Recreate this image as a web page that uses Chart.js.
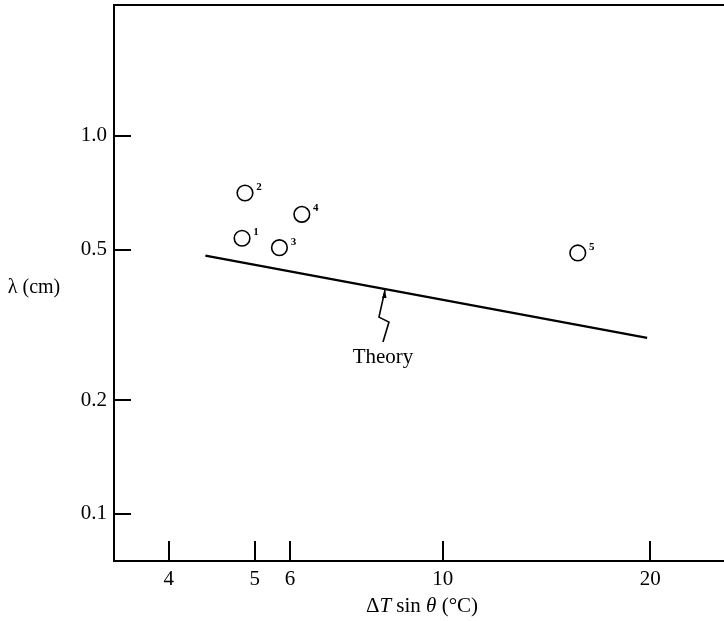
<!DOCTYPE html>
<html>
<head>
<meta charset="utf-8">
<script src="https://cdn.jsdelivr.net/npm/chart.js@4.4.1/dist/chart.umd.min.js"></script>
<style>
    html, body { margin: 0; padding: 0; background: #fff; }
    canvas { display: block; }
</style>
</head>
<body>
<canvas id="chart" width="724" height="621"></canvas>
<script>
// Measured points (run numbers 1-5)
const runLabels = ['1', '2', '3', '4', '5'];
const runX = [5.11, 5.16, 5.79, 6.24, 15.7];
const runY = [0.536, 0.706, 0.506, 0.62, 0.49];

// Theory line end points
const theoryX = [4.52, 19.8];
const theoryY = [0.482, 0.292];

// Axis ticks (the printed "5" tick sits a little right of 5 on the log scale)
const xTickValues = [4, 5.33, 6, 10, 20];
const xTickLabels = ['4', '5', '6', '10', '20'];
const yTickValues = [0.1, 0.2, 0.5, 1.0];
const yTickLabels = ['0.1', '0.2', '0.5', '1.0'];

// Where the "Theory" pointer touches the line
const theoryPointerX = 8.24;

const serif = '"Liberation Serif", "DejaVu Serif", serif';

// Draws the frame top, inward ticks, run numbers, pointer and axis titles
const extrasPlugin = {
    id: 'extras',
    afterDraw(chart) {
        const ctx = chart.ctx;
        const area = chart.chartArea;
        const xs = chart.scales.x;
        const ys = chart.scales.y;
        ctx.save();
        ctx.strokeStyle = '#000';
        ctx.fillStyle = '#000';

        // top of frame
        ctx.lineWidth = 2;
        ctx.beginPath();
        ctx.moveTo(area.left, area.top);
        ctx.lineTo(area.right, area.top);
        ctx.stroke();

        // inward tick marks
        ctx.lineWidth = 2;
        xTickValues.forEach(v => {
            const px = Math.round(xs.getPixelForValue(v));
            ctx.beginPath();
            ctx.moveTo(px, area.bottom);
            ctx.lineTo(px, area.bottom - 20);
            ctx.stroke();
        });
        yTickValues.forEach(v => {
            const py = Math.round(ys.getPixelForValue(v));
            ctx.beginPath();
            ctx.moveTo(area.left, py);
            ctx.lineTo(area.left + 17, py);
            ctx.stroke();
        });

        // run numbers next to the circles
        ctx.font = 'bold 11px ' + serif;
        ctx.textAlign = 'center';
        ctx.textBaseline = 'middle';
        runLabels.forEach((lab, i) => {
            const px = xs.getPixelForValue(runX[i]);
            const py = ys.getPixelForValue(runY[i]);
            ctx.fillText(lab, px + 14, py - 6);
        });

        // "Theory" pointer, anchored on the theory line (log-log interpolation)
        const t = (Math.log10(theoryPointerX) - Math.log10(theoryX[0])) /
                  (Math.log10(theoryX[1]) - Math.log10(theoryX[0]));
        const ly = Math.pow(10, Math.log10(theoryY[0]) + t * (Math.log10(theoryY[1]) - Math.log10(theoryY[0])));
        const ax = xs.getPixelForValue(theoryPointerX);
        const ay = ys.getPixelForValue(ly);
        ctx.lineWidth = 1.6;
        ctx.beginPath();
        ctx.moveTo(ax, ay + 1);
        ctx.lineTo(ax - 6, ay + 28);
        ctx.lineTo(ax + 4, ay + 33);
        ctx.lineTo(ax - 2, ay + 53);
        ctx.stroke();
        ctx.beginPath();
        ctx.moveTo(ax, ay + 1);
        ctx.lineTo(ax - 3, ay + 9);
        ctx.lineTo(ax + 1.5, ay + 9);
        ctx.closePath();
        ctx.fill();
        ctx.font = '21px ' + serif;
        ctx.textAlign = 'center';
        ctx.textBaseline = 'middle';
        ctx.fillText('Theory', ax - 2, ay + 68);

        // y title (horizontal)
        ctx.font = '20px ' + serif;
        ctx.textAlign = 'center';
        ctx.fillText('\u03bb (cm)', 34, (area.top + area.bottom) / 2 + 5);

        // x title with italic T and theta
        const parts = [
            ['\u0394', false],
            ['T', true],
            [' sin ', false],
            ['\u03b8', true],
            [' (\u00b0C)', false]
        ];
        let total = 0;
        parts.forEach(p => {
            ctx.font = (p[1] ? 'italic ' : '') + '21px ' + serif;
            total += ctx.measureText(p[0]).width;
        });
        let cx = (area.left + area.right) / 2 + 3 - total / 2;
        ctx.textAlign = 'left';
        parts.forEach(p => {
            ctx.font = (p[1] ? 'italic ' : '') + '21px ' + serif;
            ctx.fillText(p[0], cx, 606);
            cx += ctx.measureText(p[0]).width;
        });
        ctx.restore();
    }
};

const ctx = document.getElementById('chart').getContext('2d');
new Chart(ctx, {
    type: 'scatter',
    data: {
        datasets: [
            {
                label: 'Runs',
                data: runX.map((x, i) => ({ x: x, y: runY[i] })),
                pointStyle: 'circle',
                pointRadius: 7.8,
                borderWidth: 1.6,
                borderColor: '#000',
                backgroundColor: 'rgba(0,0,0,0)'
            },
            {
                label: 'Theory',
                type: 'line',
                data: theoryX.map((x, i) => ({ x: x, y: theoryY[i] })),
                borderColor: '#000',
                borderWidth: 2.2,
                pointRadius: 0,
                fill: false
            }
        ]
    },
    options: {
        responsive: false,
        animation: false,
        layout: { autoPadding: false, padding: { top: 5, left: 0, right: 0, bottom: 0 } },
        plugins: {
            legend: { display: false },
            tooltip: { enabled: false }
        },
        scales: {
            x: {
                type: 'logarithmic',
                min: 3.33,
                max: 25.6,
                grid: { display: false, drawTicks: false },
                border: { display: true, color: '#000', width: 2 },
                ticks: {
                    color: '#000',
                    font: { family: serif, size: 21 },
                    padding: 6,
                    autoSkip: false,
                    maxRotation: 0,
                    callback: (value, index) => xTickLabels[index]
                },
                afterBuildTicks: scale => {
                    scale.ticks = xTickValues.map(v => ({ value: v }));
                },
                afterFit: scale => {
                    scale.height = 60;
                    scale.paddingLeft = 0;
                    scale.paddingRight = 0;
                }
            },
            y: {
                type: 'logarithmic',
                min: 0.075,
                max: 2.22,
                grid: { display: false, drawTicks: false },
                border: { display: true, color: '#000', width: 2 },
                ticks: {
                    color: '#000',
                    font: { family: serif, size: 21 },
                    padding: 7,
                    autoSkip: false,
                    callback: (value, index) => yTickLabels[index]
                },
                afterBuildTicks: scale => {
                    scale.ticks = yTickValues.map(v => ({ value: v }));
                },
                afterFit: scale => {
                    scale.width = 114;
                    scale.paddingTop = 0;
                    scale.paddingBottom = 0;
                }
            }
        }
    },
    plugins: [extrasPlugin]
});
</script>
</body>
</html>
